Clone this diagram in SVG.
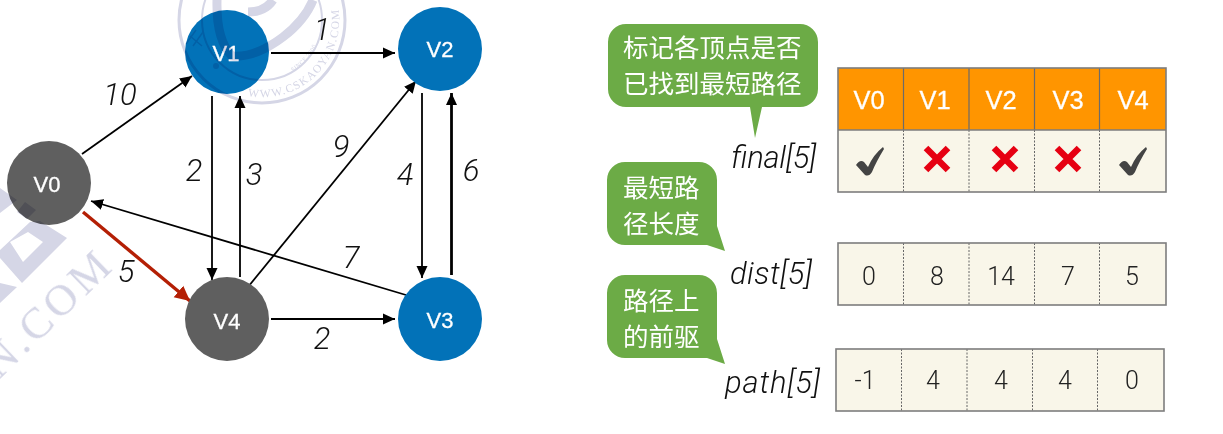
<svg xmlns="http://www.w3.org/2000/svg" width="1223" height="434" viewBox="0 0 1223 434">
  <style>
    .mark { fill: none; stroke: #d5d6e6; }
    .markfill { fill: #d5d6e6; }
    .marktext { fill: #d5d6e6; font-family: "Liberation Serif", serif; }
    #watermark { mix-blend-mode: multiply; }
    .node { stroke: none; }
    .blue { fill: #0272b8; }
    .gray { fill: #5f5f5f; }
    .vlabel { fill: #fff; stroke: #fff; stroke-width: 0.3; font-family: "Liberation Sans", sans-serif; font-size: 22px; text-anchor: middle; }
    .edge { fill: none; stroke: #000; stroke-width: 1.8; marker-end: url(#arrow); }
    .weight { fill: #111; font-family: "Roboto", "Liberation Sans", sans-serif; font-style: italic; font-weight: 300; font-size: 31px; text-anchor: middle; }
    .bubble { fill: #6cab46; }
    .cn { fill: #fff; font-family: "Noto Sans CJK SC", sans-serif; font-size: 25.500px; }
    .arr { fill: #111; font-family: "Roboto", "Liberation Sans", sans-serif; font-style: italic; font-weight: 300; font-size: 31px; }
    .head { fill: #ff9500; }
    .body { fill: #f9f6e9; }
    .frame { fill: none; stroke: #7d7d7d; stroke-width: 1.6; }
    .solid { stroke: #6b6b6b; stroke-width: 1.2; }
    .dots { stroke: #666; stroke-width: 1; stroke-dasharray: 2 1.5; }
    .num { fill: #222; font-family: "Roboto", "Liberation Sans", sans-serif; font-weight: 300; font-size: 25px; text-anchor: middle; }
    .title { fill: #fff; stroke: #fff; stroke-width: 0.3; font-family: "Liberation Sans", sans-serif; font-size: 25.500px; text-anchor: middle; }
    .yes { fill: #444; }
    .no { fill: none; stroke: #e60012; stroke-width: 6.500; }
  </style>
  <defs>
    <marker id="arrow" markerUnits="userSpaceOnUse" markerWidth="14" markerHeight="12" refX="12" refY="6" orient="auto">
      <path d="M0 0.500 L12 6 L0 11.500 Z" fill="#000"/>
    </marker>
    <marker id="arrow-red" markerUnits="userSpaceOnUse" markerWidth="18" markerHeight="16" refX="15" refY="8" orient="auto">
      <path d="M0 0.500 L15 8 L0 15.500 Z" fill="#b41f05"/>
    </marker>
    <path id="seal-outer" d="M248 96 A77 77 0 0 0 337 2"/>
    <path id="seal-inner" d="M202 20 A60 60 0 0 0 322 20"/>
    <path id="check" d="M-13 18 Q-9 12 -5 15 L-1 20 Q4 8 14 0 L15 2 Q7 15 3 25 Q0 30 -4 28 Z"/>
  </defs>

  <g id="connectors">
    <line class="edge" x1="82" y1="154" x2="192" y2="76"/>
    <line class="edge" x1="271" y1="53" x2="395" y2="53"/>
    <line class="edge" x1="212" y1="96" x2="212" y2="280"/>
    <line class="edge" x1="240" y1="277" x2="240" y2="96"/>
    <line class="edge" x1="248" y1="287" x2="416" y2="81"/>
    <line class="edge" x1="422" y1="93" x2="422" y2="278"/>
    <line class="edge" x1="451.500" y1="275" x2="451.500" y2="93" style="stroke-width:2.800"/>
    <line class="edge" x1="406" y1="295" x2="91" y2="201"/>
    <line class="edge" x1="271" y1="319" x2="395" y2="319"/>
    <line x1="83" y1="212" x2="190" y2="301" fill="none" stroke="#b41f05" stroke-width="3.400" marker-end="url(#arrow-red)"/>
  </g>

  <g id="edge-weights">
    <text class="weight" x="120" y="105">10</text>
    <text class="weight" x="322" y="40">1</text>
    <text class="weight" x="194" y="181">2</text>
    <text class="weight" x="254" y="185">3</text>
    <text class="weight" x="341" y="157">9</text>
    <text class="weight" x="405" y="185">4</text>
    <text class="weight" x="471" y="181">6</text>
    <text class="weight" x="351" y="268">7</text>
    <text class="weight" x="126" y="282">5</text>
    <text class="weight" x="322" y="349">2</text>
  </g>

  <g id="V0"><circle class="node gray" cx="49" cy="183" r="42"/><text class="vlabel" x="47" y="192">V0</text></g>
  <g id="V1"><circle class="node blue" cx="227" cy="52" r="42"/><text class="vlabel" x="226" y="61">V1</text></g>
  <g id="V2"><circle class="node blue" cx="440" cy="49" r="42"/><text class="vlabel" x="440" y="57">V2</text></g>
  <g id="V3"><circle class="node blue" cx="440" cy="319" r="42"/><text class="vlabel" x="440" y="328">V3</text></g>
  <g id="V4"><circle class="node gray" cx="227" cy="319" r="42"/><text class="vlabel" x="227" y="329">V4</text></g>

  <!-- faint seal and lettering, multiplied over the graph -->
  <g id="watermark">
    <circle class="mark" cx="262" cy="20" r="83" stroke-width="3"/>
    <circle class="mark" cx="262" cy="20" r="60" stroke-width="2"/>
    <path class="mark" d="M217 0 Q216 40 232 56 Q255 58 283 37 Q305 20 313 0" stroke-width="9"/>
    <path class="mark" d="M248 12 Q265 12 273 0" stroke-width="9"/>
    <path class="mark" d="M190 36 L202 46 M196 30 L186 44 M203 32 L193 46" stroke-width="1.500"/>
    <circle class="markfill" cx="216" cy="66" r="3"/>
    <text class="marktext" font-size="11.500" letter-spacing="1.300"><textPath href="#seal-outer">WWW.CSKAOYAN.COM</textPath></text>
    <text class="marktext" font-size="6" letter-spacing="0.500"><textPath href="#seal-inner" startOffset="126">SINCE 2000</textPath></text>
    <path class="markfill" d="M0 188 L17 200 L0 213 Z"/>
    <path class="markfill" d="M25 202 L36 210 L27 219 L17 212 Z"/>
    <path class="markfill" fill-rule="evenodd" d="M30 222 L40 221 L67 238 L22 283 L0 258 L0 250 Z M28 232 L43 242 L23 262 L10 242 Z"/>
    <path class="markfill" d="M0 283 L17 287 L0 303 Z"/>
    <text class="marktext" font-size="44" letter-spacing="4" transform="translate(-1 380) rotate(-44)">N.COM</text>
  </g>

  <g id="note-final">
    <path class="bubble" d="M626 24 H800 A18 18 0 0 1 818 42 V89 A18 18 0 0 1 800 107 H762 L755 138 L750 107 H626 A18 18 0 0 1 608 89 V42 A18 18 0 0 1 626 24 Z"/>
    <text class="cn" x="623" y="57">标记各顶点是否</text>
    <text class="cn" x="623" y="93">已找到最短路径</text>
  </g>
  <g id="note-dist">
    <path class="bubble" d="M625 162 H699 A18 18 0 0 1 717 180 V226 L725 251 L707 245 H625 A18 18 0 0 1 607 227 V180 A18 18 0 0 1 625 162 Z"/>
    <text class="cn" x="623" y="197">最短路</text>
    <text class="cn" x="623" y="233">径长度</text>
  </g>
  <g id="note-path">
    <path class="bubble" d="M625 275 H699 A18 18 0 0 1 717 293 V339 L725 364 L707 358 H625 A18 18 0 0 1 607 340 V293 A18 18 0 0 1 625 275 Z"/>
    <text class="cn" x="623" y="310">路径上</text>
    <text class="cn" x="623" y="346">的前驱</text>
  </g>

  <g id="array-labels">
    <text class="arr" x="731" y="168" textLength="85">final[5]</text>
    <text class="arr" x="730" y="284" textLength="82">dist[5]</text>
    <text class="arr" x="725" y="393" textLength="95">path[5]</text>
  </g>

  <g id="final-array">
    <rect class="head" x="838" y="68" width="328" height="62"/>
    <rect class="body" x="838" y="130" width="328" height="62"/>
    <path class="solid" d="M903.500 68 V130 M969 68 V130 M1034.500 68 V130 M1099.500 68 V130" fill="none"/>
    <path class="dots" d="M903.500 130 V192 M969 130 V192 M1034.500 130 V192 M1099.500 130 V192" fill="none"/>
    <path class="frame" d="M838 130 H1166"/>
    <rect class="frame" x="838" y="68" width="328" height="124"/>
    <text class="title" x="869" y="109">V0</text>
    <text class="title" x="935" y="109">V1</text>
    <text class="title" x="1001" y="109">V2</text>
    <text class="title" x="1068" y="109">V3</text>
    <text class="title" x="1133" y="109">V4</text>
    <use href="#check" class="yes" x="869" y="147"/>
    <path class="no" d="M926 148 L948 170 M948 148 L926 170"/>
    <path class="no" d="M994 148 L1016 170 M1016 148 L994 170"/>
    <path class="no" d="M1057 148 L1079 170 M1079 148 L1057 170"/>
    <use href="#check" class="yes" x="1132" y="147"/>
  </g>

  <g id="dist-array">
    <rect class="body" x="838" y="243" width="328" height="62"/>
    <path class="dots" d="M903.500 243 V305 M969 243 V305 M1034.500 243 V305 M1099.500 243 V305" fill="none"/>
    <rect class="frame" x="838" y="243" width="328" height="62"/>
    <text class="num" x="869" y="285">0</text>
    <text class="num" x="937" y="285">8</text>
    <text class="num" x="1001" y="285">14</text>
    <text class="num" x="1068" y="285">7</text>
    <text class="num" x="1132" y="285">5</text>
  </g>

  <g id="path-array">
    <rect class="body" x="836" y="349" width="328" height="62"/>
    <path class="dots" d="M901.500 349 V411 M967 349 V411 M1032.500 349 V411 M1097.500 349 V411" fill="none"/>
    <rect class="frame" x="836" y="349" width="328" height="62"/>
    <text class="num" x="865" y="389">-1</text>
    <text class="num" x="933" y="389">4</text>
    <text class="num" x="1001" y="389">4</text>
    <text class="num" x="1065" y="389">4</text>
    <text class="num" x="1132" y="389">0</text>
  </g>
</svg>
